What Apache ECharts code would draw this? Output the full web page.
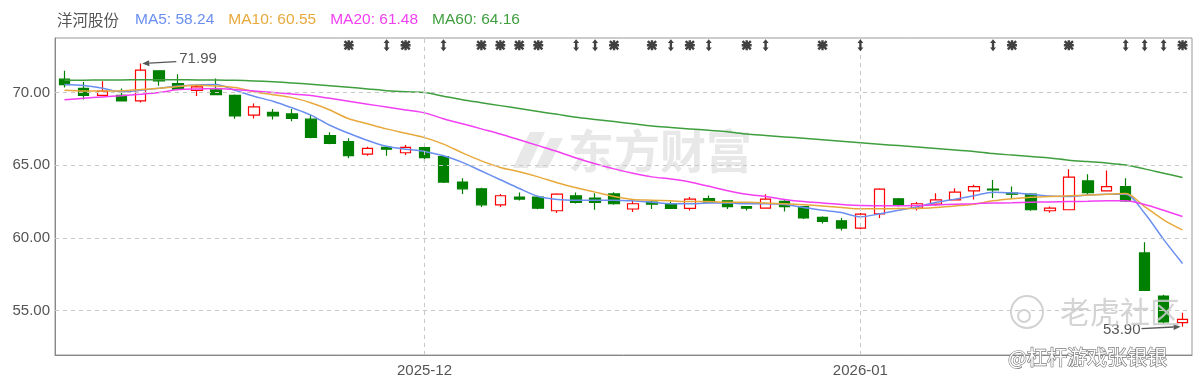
<!DOCTYPE html>
<html><head><meta charset="utf-8">
<script src="https://cdn.jsdelivr.net/npm/echarts@6/dist/echarts.min.js"></script>
<style>html,body{margin:0;padding:0;background:#fff}#c{width:1200px;height:385px}</style>
</head><body><div id="c"></div>
<script>
const stockName = '洋河股份';
const dates = [
 '2025-11-04','2025-11-05','2025-11-06','2025-11-07','2025-11-10','2025-11-11','2025-11-12','2025-11-13','2025-11-14',
 '2025-11-17','2025-11-18','2025-11-19','2025-11-20','2025-11-21','2025-11-24','2025-11-25','2025-11-26','2025-11-27','2025-11-28',
 '2025-12-01','2025-12-02','2025-12-03','2025-12-04','2025-12-05','2025-12-08','2025-12-09','2025-12-10','2025-12-11','2025-12-12',
 '2025-12-15','2025-12-16','2025-12-17','2025-12-18','2025-12-19','2025-12-22','2025-12-23','2025-12-24','2025-12-25','2025-12-26',
 '2025-12-29','2025-12-30','2025-12-31',
 '2026-01-05','2026-01-06','2026-01-07','2026-01-08','2026-01-09','2026-01-12','2026-01-13','2026-01-14','2026-01-15','2026-01-16',
 '2026-01-19','2026-01-20','2026-01-21','2026-01-22','2026-01-23','2026-01-26','2026-01-27','2026-01-28'
];
const opens = [70.92,70.28,69.81,69.81,69.42,71.49,70.62,70.15,70.18,69.81, 68.45,68.63,68.53,68.17,67.03,66.62,65.77,66.23,65.86,66.21,
 65.59,63.84,63.38,62.28,62.81,62.81,61.87,62.90,62.74,63.03, 61.99,62.47,62.33,62.03,62.71,62.55,62.16,62.05,62.51,62.16,
 61.41,61.18,60.68,61.66,62.69,62.05,62.33,62.62,63.24,63.36, 63.08,63.01,61.87,61.94,63.92,63.24,63.53,58.97,56.00,54.18];
const closes = [70.55,69.81,70.09,69.42,71.54,70.80,70.23,70.39,69.86,68.39, 69.01,68.40,68.22,66.92,66.51,65.66,66.16,66.10,66.23,65.52,
 63.84,63.38,62.28,62.90,62.67,62.05,63.01,62.44,62.44,62.35, 62.35,62.33,62.03,62.67,62.47,62.16,62.05,62.67,62.16,61.37,
 61.14,60.68,61.64,63.36,62.23,62.35,62.62,63.15,63.53,63.31, 63.01,61.94,62.05,64.18,63.12,63.53,62.55,56.39,54.22,54.40];
const lows = [70.34,69.52,69.76,69.38,69.31,70.46,70.15,69.76,69.81,68.20, 68.22,68.15,68.03,66.85,66.45,65.48,65.66,65.66,65.70,65.32,
 63.77,63.03,62.12,62.12,62.58,61.98,61.71,62.37,61.94,62.28, 61.78,61.99,61.99,61.89,62.45,61.99,61.89,62.03,61.82,61.30,
 61.00,60.52,60.59,61.37,62.16,61.89,62.23,62.58,62.65,62.74, 62.67,61.87,61.74,61.94,62.97,63.24,62.47,56.35,54.10,53.90];
const highs = [71.49,70.73,70.78,70.28,71.99,71.52,71.26,70.55,70.97,69.86, 69.25,68.86,68.86,68.49,67.26,66.85,66.27,66.30,66.39,66.27,
 65.70,64.11,63.45,63.03,63.12,62.90,63.08,63.12,63.08,63.14, 62.55,62.60,62.50,62.81,62.92,62.60,62.20,63.01,62.60,62.20,
 61.50,61.37,61.71,63.42,62.74,62.47,63.08,63.42,63.65,63.99, 63.53,63.08,62.16,64.73,64.38,64.63,64.11,59.70,56.10,54.86];
const ma5 = [70.55,70.48,70.30,70.05,70.15,70.30,70.45,70.52,70.55,70.15, 69.75,69.40,68.95,68.45,67.75,67.20,66.70,66.30,66.10,65.95,
 65.65,65.20,64.60,64.00,63.40,62.85,62.65,62.60,62.60,62.60, 62.55,62.45,62.35,62.35,62.40,62.40,62.35,62.35,62.30,62.10,
 61.90,61.75,61.45,61.65,61.90,62.15,62.45,62.67,62.90,63.15, 63.10,63.00,62.88,62.85,62.95,63.00,63.00,61.70,59.90,58.24];
const ma10 = [70.15,70.10,70.10,70.12,70.20,70.30,70.42,70.50,70.45,70.35, 70.05,69.85,69.65,69.30,68.80,68.20,67.85,67.50,67.20,66.90,
 66.45,65.85,65.30,64.85,64.55,64.20,63.80,63.45,63.15,62.85, 62.65,62.60,62.55,62.50,62.50,62.45,62.45,62.40,62.35,62.28,
 62.20,62.10,62.00,62.00,62.02,62.03,62.10,62.20,62.32,62.55, 62.70,62.80,62.85,62.90,62.95,63.00,63.05,62.16,61.25,60.55];
const ma20 = [69.50,69.60,69.70,69.78,69.88,70.00,70.20,70.25,70.27,70.20, 70.10,70.00,69.90,69.80,69.60,69.40,69.20,69.00,68.80,68.60,
 68.20,67.85,67.50,67.15,66.75,66.35,65.95,65.50,65.10,64.75, 64.45,64.20,64.05,63.85,63.55,63.25,63.00,62.85,62.65,62.50,
 62.40,62.30,62.23,62.22,62.22,62.23,62.27,62.32,62.36,62.40, 62.42,62.45,62.48,62.50,62.52,62.55,62.55,62.30,61.90,61.48];
const ma60 = [70.85,70.85,70.86,70.87,70.88,70.88,70.88,70.87,70.86,70.84, 70.80,70.74,70.66,70.57,70.47,70.36,70.25,70.13,70.05,70.00,
 69.75,69.50,69.30,69.10,68.90,68.70,68.50,68.30,68.15,68.00, 67.85,67.70,67.60,67.50,67.40,67.30,67.15,67.05,66.95,66.85,
 66.75,66.65,66.55,66.45,66.35,66.25,66.15,66.05,65.95,65.80, 65.70,65.60,65.50,65.35,65.25,65.15,65.02,64.75,64.45,64.16];
const yTicks = [55, 60, 65, 70];
const monthStarts = ['2025-12-01', '2026-01-05'];
const starDays = ['2025-11-25','2025-11-28','2025-12-04','2025-12-05','2025-12-08','2025-12-09','2025-12-15','2025-12-17',
 '2025-12-19','2025-12-24','2025-12-30','2026-01-15','2026-01-20','2026-01-28'];
const arrowDays = ['2025-11-27','2025-12-02','2025-12-11','2025-12-12','2025-12-18','2025-12-22','2025-12-25','2026-01-05',
 '2026-01-14','2026-01-23','2026-01-26','2026-01-27'];

const FONT = '"Liberation Sans", Arial, sans-serif';
const CJK = '"Noto Sans CJK SC", sans-serif';
const MA_COLORS = {MA5:'#6a8ff0', MA10:'#e8a93c', MA20:'#f23ff2', MA60:'#3f9f3f'};
const maSets = [['MA5', ma5], ['MA10', ma10], ['MA20', ma20], ['MA60', ma60]];
const MARK_Y = 73.25;
const STAR_PATH = 'path://M3.8,0h2.4v10h-2.4z M0,3.8h10v2.4h-10z M1.7,0L10,8.3L8.3,10L0,1.7z M8.3,0L10,1.7L1.7,10L0,8.3z';
const UPDOWN_PATH = 'path://M3,0L6,3.8L4.2,3.8L4.2,8.2L6,8.2L3,12L0,8.2L1.8,8.2L1.8,3.8L0,3.8z';

const chart = echarts.init(document.getElementById('c'), null, {renderer: 'canvas'});
const kData = dates.map((d, i) => [opens[i], closes[i], lows[i], highs[i]]);

let titleText = '{n|' + stockName + '}';
const rich = {n: {color: '#555', fontFamily: CJK, fontSize: 15.5, fontWeight: 'normal', padding: [0, 16, 0, 0]}};
maSets.forEach(([name, arr], k) => {
  const key = 'm' + k;
  titleText += '{' + key + '|' + name + ': ' + arr[arr.length - 1].toFixed(2) + '}';
  rich[key] = {color: MA_COLORS[name], fontFamily: FONT, fontSize: 15.5, fontWeight: 'normal', padding: [0, 14, 0, 0]};
});

const option = {
  animation: false,
  backgroundColor: '#fff',
  title: {left: 57, top: 12, padding: 0, text: titleText, textStyle: {fontWeight: 'normal', fontSize: 16, rich: rich}},
  grid: {left: 55, right: 8, top: 38, bottom: 30, show: true, borderColor: '#999', borderWidth: 1},
  xAxis: {
    type: 'category', data: dates, boundaryGap: true,
    axisLine: {show: true, lineStyle: {color: '#888'}},
    axisTick: {show: false},
    splitLine: {show: false},
    axisLabel: {
      interval: (i, v) => monthStarts.includes(v),
      formatter: v => v.slice(0, 7),
      color: '#555', fontSize: 15, fontFamily: FONT, margin: 8
    }
  },
  yAxis: {
    type: 'value', min: 51.95, max: 73.75, scale: true,
    axisLine: {show: true, lineStyle: {color: '#888'}},
    axisTick: {show: false},
    splitLine: {show: false},
    axisLabel: {customValues: yTicks, formatter: v => v.toFixed(2), color: '#555', fontSize: 15, fontFamily: FONT, margin: 5}
  },
  series: [
    {
      type: 'line', data: dates.map(() => null), z: 1, silent: true, symbol: 'none',
      markLine: {
        silent: true, symbol: 'none', label: {show: false},
        lineStyle: {type: [4, 4], color: '#c8c8c8', width: 1},
        emphasis: {disabled: true},
        data: yTicks.map(v => ({yAxis: v})).concat(monthStarts.map(d => ({xAxis: d})))
      }
    },
    {
      name: stockName, type: 'candlestick', data: kData, barWidth: 11, z: 3,
      itemStyle: {color: '#ffffff', color0: '#008000', borderColor: '#ff0000', borderColor0: '#008000', borderWidth: 1.2}
    },
    ...maSets.map(([name, arr]) => ({
      name: name, type: 'line', data: arr, symbol: 'none', smooth: 0.3, z: 4, silent: true,
      lineStyle: {color: MA_COLORS[name], width: 1.5}
    })),
    {
      type: 'scatter', data: starDays.map(d => [d, MARK_Y]), symbol: STAR_PATH, symbolSize: 10,
      itemStyle: {color: '#111'}, z: 5, silent: true
    },
    {
      type: 'scatter', data: arrowDays.map(d => [d, MARK_Y]), symbol: UPDOWN_PATH, symbolSize: [6, 12],
      itemStyle: {color: '#111'}, z: 5, silent: true
    }
  ]
};
chart.setOption(option);

function arrowEls(x1, y1, x2, y2) {
  const ang = Math.atan2(y2 - y1, x2 - x1), L = 7, W = 3;
  const bx = x2 - L * Math.cos(ang), by = y2 - L * Math.sin(ang);
  const px = -Math.sin(ang) * W, py = Math.cos(ang) * W;
  return [
    {type: 'line', shape: {x1: x1, y1: y1, x2: bx, y2: by}, style: {stroke: '#555', lineWidth: 1.3}, z: 20},
    {type: 'polygon', shape: {points: [[x2, y2], [bx + px, by + py], [bx - px, by - py]]}, style: {fill: '#555'}, z: 20}
  ];
}
const hiIdx = highs.indexOf(Math.max(...highs));
const loIdx = lows.indexOf(Math.min(...lows));
const hp = chart.convertToPixel({gridIndex: 0}, [hiIdx, highs[hiIdx]]);
const lp = chart.convertToPixel({gridIndex: 0}, [loIdx, lows[loIdx]]);
const txt = (x, y, s, align, extra) => Object.assign({type: 'text', x: x, y: y, z: 20,
  style: Object.assign({text: s, fill: '#555', font: '15px ' + FONT, align: align, textAlign: align, verticalAlign: 'middle', textVerticalAlign: 'middle'}, extra || {})});

const g = [];
// watermark: 东方财富
g.push({type: 'polygon', z: 0, shape: {points: [[530, 132], [545, 132], [528, 168], [513, 168]]}, style: {fill: '#e8e8e8'}});
g.push({type: 'polygon', z: 0, shape: {points: [[550, 138], [563, 138], [548, 168], [535, 168]]}, style: {fill: '#e8e8e8'}});
g.push({type: 'text', x: 568, y: 151, z: 0, style: {text: '东方财富', fill: '#e8e8e8', font: 'bold 46px ' + CJK, verticalAlign: 'middle', textVerticalAlign: 'middle'}});
// watermark: 老虎社区
g.push({type: 'circle', z: 30, shape: {cx: 1027, cy: 312, r: 16}, style: {fill: 'none', stroke: '#d2d2d2', lineWidth: 2}});
g.push({type: 'circle', z: 30, shape: {cx: 1024, cy: 316, r: 6}, style: {fill: 'none', stroke: '#d2d2d2', lineWidth: 2}});
g.push({type: 'text', x: 1060, y: 312, z: 30, style: {text: '老虎社区', fill: 'rgba(205,205,205,0.85)', font: '30px ' + CJK, verticalAlign: 'middle', textVerticalAlign: 'middle'}});
g.push({type: 'text', x: 1008, y: 357, z: 40, style: {text: '@杠杆游戏张银银', fill: '#ffffff', stroke: '#7a7a7a', lineWidth: 1.3, font: '20px ' + CJK, verticalAlign: 'middle', textVerticalAlign: 'middle'}});
// max / min annotations
arrowEls(hp[0] + 36, hp[1] - 2, hp[0] + 2, hp[1]).forEach(e => g.push(e));
g.push(txt(hp[0] + 39, hp[1] - 5, highs[hiIdx].toFixed(2), 'left'));
arrowEls(lp[0] - 41, lp[1] + 2, lp[0] - 2, lp[1]).forEach(e => g.push(e));
g.push(txt(lp[0] - 42, lp[1] + 3, lows[loIdx].toFixed(2), 'right'));
chart.setOption({graphic: {elements: g}});
</script></body></html>
